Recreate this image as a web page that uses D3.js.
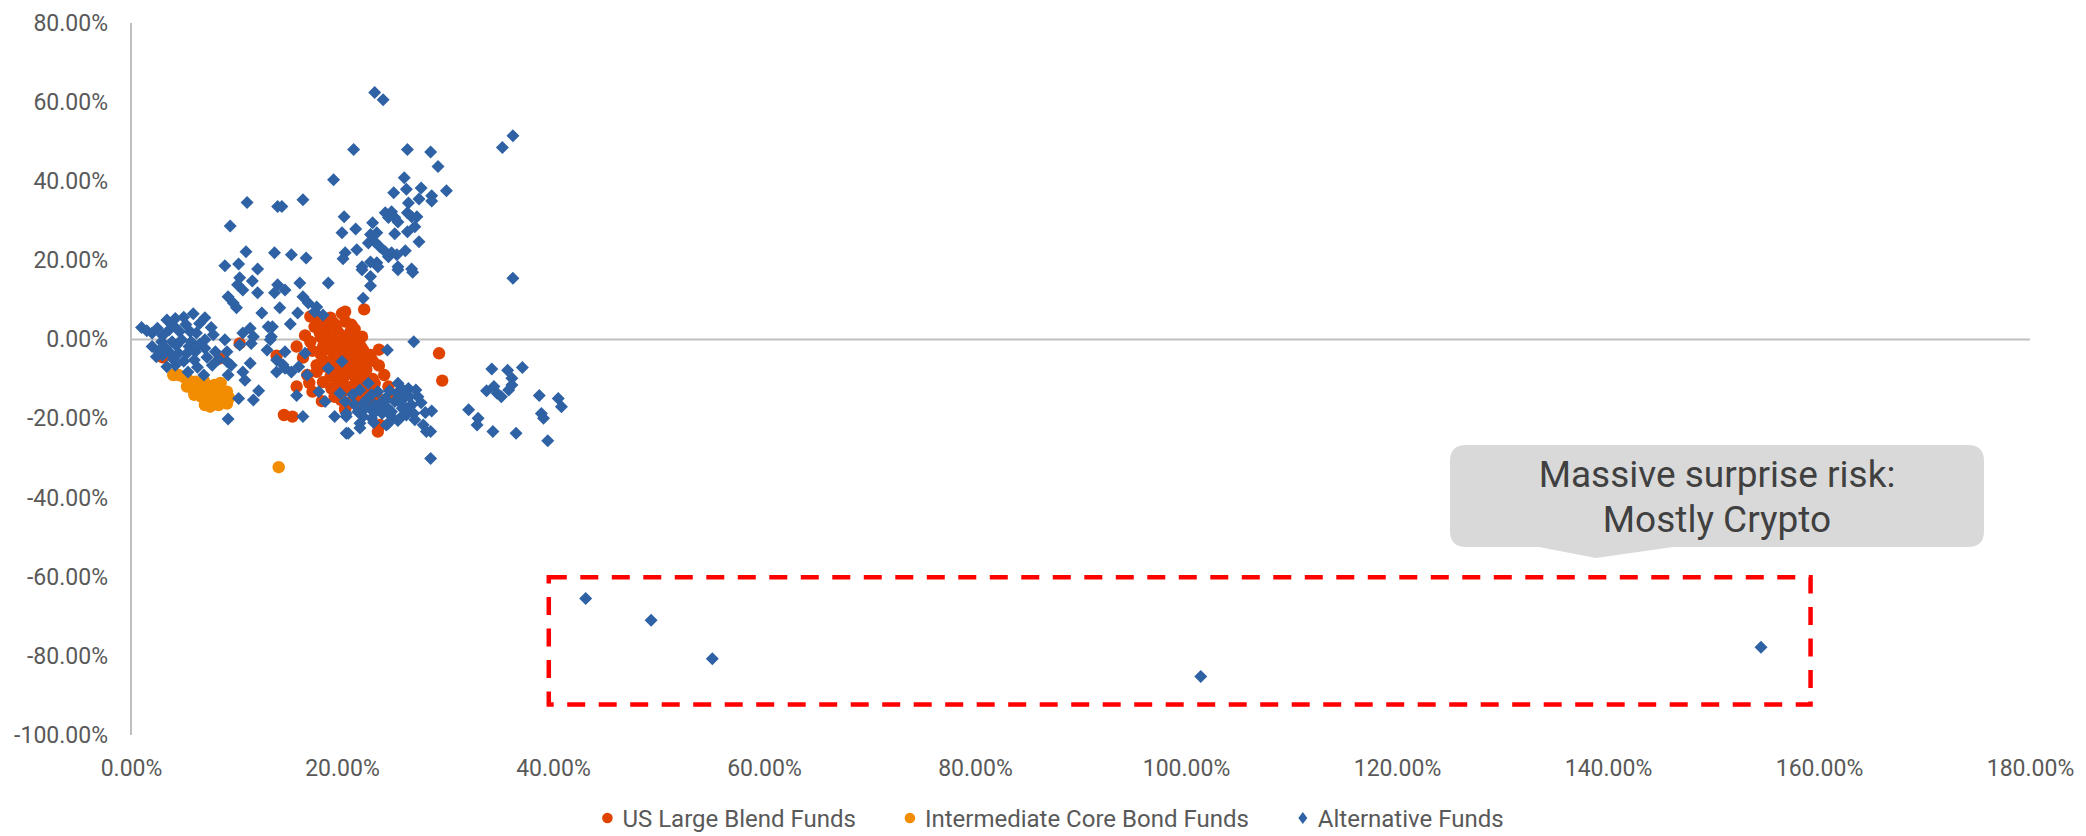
<!DOCTYPE html>
<html>
<head>
<meta charset="utf-8">
<script src="https://cdn.jsdelivr.net/npm/d3@7"></script>
<style>
  html, body { margin: 0; padding: 0; background: #ffffff; }
  svg { display: block; font-family: Roboto, "Noto Sans", sans-serif; }
</style>
</head>
<body>
<svg id="chart" width="2086" height="836"></svg>
<script>
// ---- data: [annualised volatility %, drawdown/return %] per fund ----
const seriesNames = ["US Large Blend Funds", "Intermediate Core Bond Funds", "Alternative Funds"];

const usLargeBlend = [
  [10.3,-1.0],[8.4,-4.8],[3.0,-4.5],[13.8,-4.1],[15.7,-1.8],[15.7,-11.9],[14.5,-19.1],[15.3,-19.5],
  [16.7,-9.0],[19.3,-14.5],[20.3,-17.8],
  [17.0,5.8],[17.9,4.9],[20.0,6.6],[20.3,4.5],[20.8,2.0],[18.7,2.4],[17.9,1.6],[17.0,-0.6],[19.5,-0.1],
  [20.4,-1.0],[21.5,0.3],[18.2,-1.8],[19.3,-3.1],[20.9,-3.1],[22.0,-2.7],[22.7,-3.9],[17.6,-6.5],[18.5,-5.6],
  [19.5,-7.3],[20.6,-6.5],[21.5,-6.0],[22.3,-7.7],[18.9,-9.4],[20.1,-9.8],[21.2,-9.4],[22.3,-9.8],[23.1,-11.1],
  [19.0,-12.4],[20.4,-12.8],[22.0,-12.8],[24.4,-11.9],[21.1,-14.9],[22.7,-15.3],[20.3,-17.4],[21.9,-16.6],
  [22.1,7.6],[29.2,-3.5],[29.5,-10.4],[23.6,-21.6],[23.4,-23.3],[21.9,0.7],[20.9,3.7],[20.3,7.0],
  [18.3,3.5],[19.2,4.2],[19.8,1.2],[18.6,0.4],[19.0,-1.5],[20.0,-2.2],[21.0,-1.2],[21.8,-4.5],[19.9,-4.6],
  [18.0,-3.8],[17.2,-2.9],[16.5,1.0],[21.2,-5.2],[20.2,-8.2],[19.0,-8.0],[21.8,-8.5],[22.9,-10.0],[21.4,-11.4],
  [20.0,-11.0],[18.2,-10.8],[22.6,-13.2],[23.3,-14.2],[21.3,-13.2],[19.9,-15.3],[20.8,-16.0],[23.0,-17.0],
  [17.6,-8.2],[16.9,-11.0],[24.0,-9.0],[23.5,-6.6],[22.9,-5.4],[23.5,-2.6],[19.4,2.9],[18.9,5.5],[17.4,3.2],
  [16.3,-4.6],[17.2,-13.2],[18.1,-15.6],[24.8,-14.0],
  [18.0,0.6],[19.6,1.9],[20.6,0.9],[21.2,2.6],[18.8,-2.6],[20.4,-4.0],[21.8,-1.9],[19.0,-5.4],[20.8,-7.4],
  [22.0,-6.2],[19.6,-9.6],[21.6,-10.4],[20.8,-12.0],[23.0,-12.2],[21.9,-14.6],[19.4,-11.6],[18.3,-6.8]
];

const coreBond = [
  [4.5,-9.0],[5.4,-10.2],[5.8,-12.3],[6.2,-13.6],[6.7,-14.5],[7.2,-15.7],[7.6,-14.9],[8.1,-14.1],[8.6,-12.8],
  [9.1,-13.2],[9.1,-16.2],[7.3,-11.9],[7.9,-11.5],[6.7,-11.5],[6.1,-10.7],[5.3,-11.9],[7.0,-16.6],[8.3,-16.6],
  [4.0,-9.0],[5.0,-9.5],[6.5,-12.8],[7.7,-13.6],[8.8,-14.9],[7.0,-15.0],[6.0,-14.0],[8.5,-11.0],[9.3,-14.8],
  [7.5,-17.0],[8.0,-12.2],[6.9,-10.4],[5.7,-11.0],[14.0,-32.3]
];

const alternative = [
  // upper band
  [21.1,48.0],[19.2,40.4],[11.0,34.6],[13.9,33.6],[14.3,33.6],[16.3,35.3],[9.4,28.7],[20.2,31.0],[20.0,27.0],
  [10.9,22.2],[13.6,21.9],[15.2,21.4],[16.6,20.6],[20.3,21.9],[20.1,20.4],[8.9,18.6],[10.2,19.1],[12.0,17.8],
  [23.1,62.4],[23.9,60.6],[36.2,51.5],[35.2,48.5],[26.2,48.0],[28.4,47.4],[29.1,43.7],[25.9,40.9],[26.1,38.0],
  [27.5,38.3],[29.9,37.6],[24.9,37.1],[26.3,34.5],[27.3,35.5],[28.5,36.3],[28.5,35.0],
  [24.1,32.0],[24.7,32.3],[25.0,30.8],[24.4,30.8],[25.3,29.7],[26.2,32.0],[26.6,31.0],[27.1,31.0],[26.9,28.5],
  [26.2,27.2],[25.0,26.7],[21.3,27.9],[22.9,29.5],[22.7,26.5],[23.3,27.0],[23.1,24.7],[22.5,24.4],[23.6,23.4],
  [24.1,22.2],[24.7,21.9],[25.2,21.4],[24.4,20.9],[26.0,22.4],[27.3,24.7],[21.4,22.7],[22.7,19.6],[23.3,19.4],
  [21.9,18.4],[25.3,18.4],[26.6,17.8],
  [21.9,17.6],[22.7,15.9],[23.4,18.4],[25.3,17.6],[26.7,17.0],[22.7,13.6],[22.0,10.4],[36.2,15.5],
  // middle band
  [10.3,15.6],[11.5,14.8],[10.6,12.5],[12.0,11.8],[10.1,13.8],[13.9,13.8],[14.6,12.5],[13.6,11.8],[16.0,14.3],
  [18.7,14.3],[16.3,10.8],[16.8,9.2],[9.2,10.8],[9.7,9.2],[10.0,8.0],[14.1,8.0],[15.8,6.7],[12.4,6.7],[15.1,3.9],
  [13.4,3.2],[17.6,8.2],[18.2,6.2],[17.4,7.0],
  // low-volatility cluster
  [1.0,3.0],[2.0,1.6],[3.4,4.9],[4.2,5.3],[5.0,5.6],[5.9,6.5],[7.0,5.5],[7.6,3.0],[3.6,2.4],[4.6,2.0],[5.6,2.0],
  [6.2,1.6],[2.9,-0.6],[3.9,-0.6],[4.8,-0.1],[5.7,-0.6],[7.0,-0.1],[2.4,-4.4],[3.6,-3.1],[4.5,-3.5],[5.3,-3.5],
  [6.1,-3.1],[7.0,-2.2],[8.0,-3.1],[3.4,-6.9],[4.2,-6.5],[5.4,-8.2],[6.9,-9.0],[7.7,-6.5],[8.9,-0.1],[9.1,-3.1],
  [9.5,-6.5],[9.2,-9.0],
  [1.5,2.2],[2.5,2.8],[3.0,1.0],[4.0,3.5],[5.2,3.8],[6.5,4.0],[2.0,-1.8],[3.2,-2.0],[4.3,-1.5],[5.5,-1.8],
  [6.5,-1.2],[7.8,1.2],[4.0,-5.0],[5.0,-5.5],[6.0,-5.2],[3.0,-4.0],[2.6,-3.0],[7.2,-4.5],[8.3,-5.0],[6.3,-7.0],
  [10.6,1.6],[11.3,2.8],[11.6,0.7],[10.3,-1.4],[11.4,-1.0],[13.0,3.2],[13.3,0.7],[12.9,-2.7],[13.8,-5.2],
  [14.4,-6.4],[9.1,-5.6],[10.6,-8.2],[10.8,-10.3],[11.3,-6.0],[13.2,-0.1],[13.8,-8.2],[14.6,-7.3],
  [10.2,-14.9],[11.6,-15.3],[12.1,-13.0],[9.2,-20.1],[15.7,-14.2],[16.3,-19.5],
  [14.6,-3.1],[15.9,-6.9],[16.5,-3.5],[16.7,-9.0],[15.2,-8.2],[17.8,-13.2],[18.4,-15.7],[19.3,-19.5],[20.4,-19.5],
  [20.4,-23.7],[20.0,-5.6],[18.7,-7.3],[19.8,-13.6],[26.8,-0.6],[24.3,-2.7],
  // equity-like drawdown cluster
  [21.7,-12.8],[22.5,-11.1],[23.4,-13.2],[25.3,-11.1],[26.3,-12.4],[27.2,-14.5],[26.0,-14.5],[25.0,-15.7],
  [24.1,-14.9],[23.1,-16.6],[22.2,-17.4],[21.5,-18.3],[22.0,-19.5],[22.8,-19.9],[23.8,-18.7],[24.7,-18.3],
  [25.7,-17.4],[26.6,-16.6],[26.1,-19.1],[24.4,-21.2],[21.7,-22.4],[20.6,-23.7],[20.4,-18.7],[20.3,-15.7],
  [22.0,-16.2],[22.7,-17.6],[23.6,-16.2],[24.2,-17.0],[25.2,-13.6],[25.8,-12.8],[26.4,-14.5],[25.6,-16.2],
  [26.4,-17.0],[24.7,-19.5],[25.8,-19.1],[26.8,-18.7],[21.7,-21.2],[24.2,-21.6],[27.7,-21.6],
  [21.0,-14.0],[22.8,-14.0],[24.5,-13.0],[25.5,-14.8],[23.2,-18.2],[21.2,-16.5],[27.5,-16.0],[27.9,-18.5],
  [26.9,-20.3],[23.0,-21.0],[25.3,-20.5],[22.3,-15.3],[24.0,-15.8],[27.0,-12.8],
  [28.5,-18.1],[28.0,-23.3],[28.4,-23.3],[28.4,-30.1],
  // high-volatility group
  [34.2,-7.5],[35.7,-7.8],[37.1,-7.1],[36.1,-9.8],[33.7,-13.0],[34.4,-11.9],[34.7,-13.6],[35.1,-14.5],
  [35.8,-12.8],[36.1,-11.5],[32.0,-17.8],[32.9,-19.9],[32.8,-21.6],[34.3,-23.3],[36.5,-23.7],[38.7,-14.2],
  [38.9,-18.7],[39.1,-19.9],[39.5,-25.6],[40.5,-14.9],[40.8,-17.0],
  // crypto funds
  [43.1,-65.5],[49.3,-71.0],[55.1,-80.7],[101.4,-85.2],[154.5,-77.8]
];

const xTicks = [0, 20, 40, 60, 80, 100, 120, 140, 160, 180];
const yTicks = [-100, -80, -60, -40, -20, 0, 20, 40, 60, 80];
const calloutLines = ["Massive surprise risk:", "Mostly Crypto"];
// highlighted region around the crypto funds, in axis units
const highlight = { x0: 39.6, x1: 159.2, y0: -60.1, y1: -92.3 };

// ---- layout & style ----
const colors = ["#E04300", "#F28C00", "#2E62A4"];
const axisColor = "#BFBFBF";
const labelColor = "#595959";

const svg = d3.select("#chart");
const x = d3.scaleLinear().domain([0, 180]).range([131, 2030]);
const y = d3.scaleLinear().domain([-100, 80]).range([735, 23]);
const fmt = v => v.toFixed(2) + "%";

// axis lines
svg.append("line")
  .attr("x1", x(0)).attr("x2", x(0)).attr("y1", y(80)).attr("y2", y(-100))
  .attr("stroke", axisColor).attr("stroke-width", 2);
svg.append("line")
  .attr("x1", x(0)).attr("x2", x(180)).attr("y1", y(0)).attr("y2", y(0))
  .attr("stroke", axisColor).attr("stroke-width", 2);

// y tick labels
const yAxis = svg.append("g")
  .attr("transform", `translate(${x(0)},0)`)
  .call(d3.axisLeft(y).tickValues(yTicks).tickFormat(fmt).tickSize(0).tickPadding(23));
yAxis.select(".domain").remove();
yAxis.selectAll("text")
  .attr("fill", labelColor).style("font-family", "Roboto").style("font-size", "23px");

// x tick labels, placed below the plot
const xAxis = svg.append("g")
  .attr("transform", `translate(0,760)`)
  .call(d3.axisBottom(x).tickValues(xTicks).tickFormat(fmt).tickSize(0).tickPadding(0));
xAxis.select(".domain").remove();
xAxis.selectAll("text")
  .attr("fill", labelColor).style("font-family", "Roboto").style("font-size", "23px");

// markers
const diamond = {
  draw(ctx, size) {
    const w = Math.sqrt(size) / 2;
    ctx.moveTo(0, -w); ctx.lineTo(w, 0); ctx.lineTo(0, w); ctx.lineTo(-w, 0); ctx.closePath();
  }
};
const diamondPath = d3.symbol().type(diamond).size(13 * 13)();

svg.append("g").selectAll("circle").data(usLargeBlend).join("circle")
  .attr("cx", d => x(d[0])).attr("cy", d => y(d[1])).attr("r", 6.2)
  .attr("fill", colors[0]);

svg.append("g").selectAll("circle").data(coreBond).join("circle")
  .attr("cx", d => x(d[0])).attr("cy", d => y(d[1])).attr("r", 6.2)
  .attr("fill", colors[1]);

svg.append("g").selectAll("path").data(alternative).join("path")
  .attr("d", diamondPath)
  .attr("transform", d => `translate(${x(d[0])},${y(d[1])})`)
  .attr("fill", colors[2]);

// dashed highlight box
svg.append("rect")
  .attr("x", x(highlight.x0)).attr("y", y(highlight.y0))
  .attr("width", x(highlight.x1) - x(highlight.x0))
  .attr("height", y(highlight.y1) - y(highlight.y0))
  .attr("fill", "none").attr("stroke", "#FF0000")
  .attr("stroke-width", 4.5).attr("stroke-dasharray", "18,13.5");

// callout bubble
const cb = { l: 1450, r: 1984, t: 445, b: 547, rad: 16, pl: 1539, pr: 1673, tipX: 1596, tipY: 558 };
const p = d3.path();
p.moveTo(cb.l + cb.rad, cb.t);
p.lineTo(cb.r - cb.rad, cb.t);
p.quadraticCurveTo(cb.r, cb.t, cb.r, cb.t + cb.rad);
p.lineTo(cb.r, cb.b - cb.rad);
p.quadraticCurveTo(cb.r, cb.b, cb.r - cb.rad, cb.b);
p.lineTo(cb.pr, cb.b);
p.lineTo(cb.tipX, cb.tipY);
p.lineTo(cb.pl, cb.b);
p.lineTo(cb.l + cb.rad, cb.b);
p.quadraticCurveTo(cb.l, cb.b, cb.l, cb.b - cb.rad);
p.lineTo(cb.l, cb.t + cb.rad);
p.quadraticCurveTo(cb.l, cb.t, cb.l + cb.rad, cb.t);
p.closePath();
svg.append("path").attr("d", p.toString()).attr("fill", "#D9D9D9");

svg.append("g").selectAll("text").data(calloutLines).join("text")
  .attr("x", (cb.l + cb.r) / 2)
  .attr("y", (d, i) => 487 + i * 45)
  .attr("text-anchor", "middle")
  .attr("fill", "#404040")
  .style("font-family", "Roboto").style("font-size", "37px")
  .text(d => d);

// legend
const legend = svg.append("g");
const legendY = 818;
let cursor = 0;
seriesNames.forEach((name, i) => {
  const item = legend.append("g").attr("transform", `translate(${cursor},0)`);
  if (i < 2) {
    item.append("circle").attr("cx", 0).attr("cy", legendY).attr("r", 5.3).attr("fill", colors[i]);
  } else {
    item.append("path").attr("d", "M0,-6L4.5,0L0,6L-4.5,0Z")
      .attr("transform", `translate(0,${legendY})`).attr("fill", colors[i]);
  }
  const t = item.append("text")
    .attr("x", 15).attr("y", legendY).attr("dy", "0.36em")
    .attr("fill", labelColor)
    .style("font-family", "Roboto").style("font-size", "24px")
    .text(name);
  cursor += 15 + t.node().getComputedTextLength() + 54;
});
const legendWidth = cursor - 54 + 5;
legend.attr("transform", `translate(${1053 - legendWidth / 2 + 5},0)`);
</script>
</body>
</html>
